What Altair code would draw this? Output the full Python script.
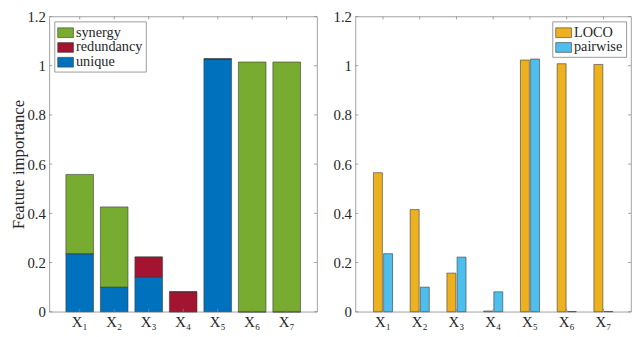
import altair as alt
import pandas as pd

FONT = "Liberation Serif, DejaVu Serif, serif"

features = ["X₁", "X₂", "X₃", "X₄", "X₅", "X₆", "X₇"]
unique = [0.236, 0.100, 0.141, 0.0, 1.027, 0.0, 0.0]
redundancy = [0.0, 0.0, 0.081, 0.081, 0.0, 0.0, 0.0]
synergy = [0.322, 0.326, 0.0, 0.0, 0.0, 1.015, 1.015]

loco = [0.565, 0.415, 0.157, 0.003, 1.023, 1.008, 1.005]
pairwise = [0.236, 0.100, 0.222, 0.081, 1.027, 0.001, 0.001]

y_ticks = [0, 0.2, 0.4, 0.6, 0.8, 1.0, 1.2]

components = ["synergy", "redundancy", "unique"]
comp_colors = ["#77AC30", "#A2142F", "#0072BD"]
stack_rank = {"unique": 0, "redundancy": 1, "synergy": 2}

methods = ["LOCO", "pairwise"]
method_colors = ["#EDB120", "#4DBEEE"]

rows = []
for i, f in enumerate(features):
    for name, vals in (("unique", unique), ("redundancy", redundancy), ("synergy", synergy)):
        rows.append({"feature": f, "component": name, "value": vals[i], "rank": stack_rank[name]})
left_df = pd.DataFrame(rows)

rrows = []
for i, f in enumerate(features):
    rrows.append({"feature": f, "method": "LOCO", "value": loco[i]})
    rrows.append({"feature": f, "method": "pairwise", "value": pairwise[i]})
right_df = pd.DataFrame(rrows)

ytick_df = pd.DataFrame({"value": y_ticks})
xtick_df = pd.DataFrame({"feature": features})

H = 300
WL = 272
WR = 280
TICK = "#8a8a8a"
EDGE = "#3a3a3a"
TXT = "#262626"

yscale = alt.Scale(domain=[0, 1.2], nice=False, zero=True)
xscale_L = alt.Scale(paddingInner=0.2, paddingOuter=0.48)
xscale_R = alt.Scale(paddingInner=0.48, paddingOuter=0.49)

x_axis = alt.Axis(title=None, labelAngle=0, domain=False, ticks=False, labelPadding=3,
                  labelFontSize=15)
y_axis_L = alt.Axis(values=y_ticks, format=".1~f", title="Feature importance", grid=False,
                    domain=False, ticks=False, labelPadding=4, titlePadding=0)
y_axis_R = alt.Axis(values=y_ticks, format=".1~f", title=None, grid=False,
                    domain=False, ticks=False, labelPadding=4, minExtent=26, maxExtent=26)


def tick_layers(xscale, W, yax):
    yl = alt.Chart(ytick_df).mark_rule(color=TICK, strokeWidth=0.8).encode(
        y=alt.Y("value:Q", scale=yscale, axis=yax), x=alt.value(0), x2=alt.value(3))
    yr = alt.Chart(ytick_df).mark_rule(color=TICK, strokeWidth=0.8).encode(
        y=alt.Y("value:Q", scale=yscale, axis=yax), x=alt.value(W - 3), x2=alt.value(W))
    xb = alt.Chart(xtick_df).mark_rule(color=TICK, strokeWidth=0.8).encode(
        x=alt.X("feature:N", sort=features, scale=xscale, axis=x_axis), y=alt.value(H - 3), y2=alt.value(H))
    xt = alt.Chart(xtick_df).mark_rule(color=TICK, strokeWidth=0.8).encode(
        x=alt.X("feature:N", sort=features, scale=xscale, axis=x_axis), y=alt.value(0), y2=alt.value(3))
    return [yl, yr, xb, xt]


legend_common = dict(
    title=None, offset=5, padding=3, rowPadding=0,
    symbolType="M-1,-0.62H1V0.62H-1Z", symbolSize=256,
    symbolStrokeColor=EDGE, symbolStrokeWidth=0.6, symbolOpacity=1,
    labelFont=FONT, labelFontSize=14.5, labelColor=TXT, labelOffset=2,
    strokeColor="#9a9a9a", fillColor="white", cornerRadius=0,
)

left_bars = alt.Chart(left_df).mark_bar(stroke=EDGE, strokeWidth=0.6, opacity=1).encode(
    x=alt.X("feature:N", sort=features, scale=xscale_L, axis=x_axis),
    y=alt.Y("value:Q", stack="zero", scale=yscale, axis=y_axis_L),
    color=alt.Color("component:N", scale=alt.Scale(domain=components, range=comp_colors),
                    legend=alt.Legend(orient="top-left", **legend_common)),
    order=alt.Order("rank:Q", sort="ascending"),
)

left = alt.layer(left_bars, *tick_layers(xscale_L, WL, y_axis_L)).properties(width=WL, height=H)

right_bars = alt.Chart(right_df).mark_bar(stroke=EDGE, strokeWidth=0.6, opacity=1).encode(
    x=alt.X("feature:N", sort=features, scale=xscale_R, axis=x_axis),
    xOffset=alt.XOffset("method:N", sort=methods, scale=alt.Scale(paddingInner=0.12)),
    y=alt.Y("value:Q", scale=yscale, axis=y_axis_R),
    color=alt.Color("method:N", scale=alt.Scale(domain=methods, range=method_colors),
                    legend=alt.Legend(orient="top-right", **legend_common)),
)

right = alt.layer(right_bars, *tick_layers(xscale_R, WR, y_axis_R)).properties(width=WR, height=H)

chart = alt.hconcat(left, right, spacing=11).resolve_scale(color="independent").properties(
    padding={"left": 0, "top": -2, "right": 0, "bottom": 0}
).configure(font=FONT).configure_axis(
    labelFont=FONT, titleFont=FONT, labelFontSize=15, titleFontSize=17,
    labelColor=TXT, titleColor=TXT, titleFontWeight="normal",
).configure_legend(labelFont=FONT).configure_view(stroke="#8a8a8a", strokeWidth=0.8)

chart.save("out.html", embed_options={"renderer": "svg", "actions": False})
